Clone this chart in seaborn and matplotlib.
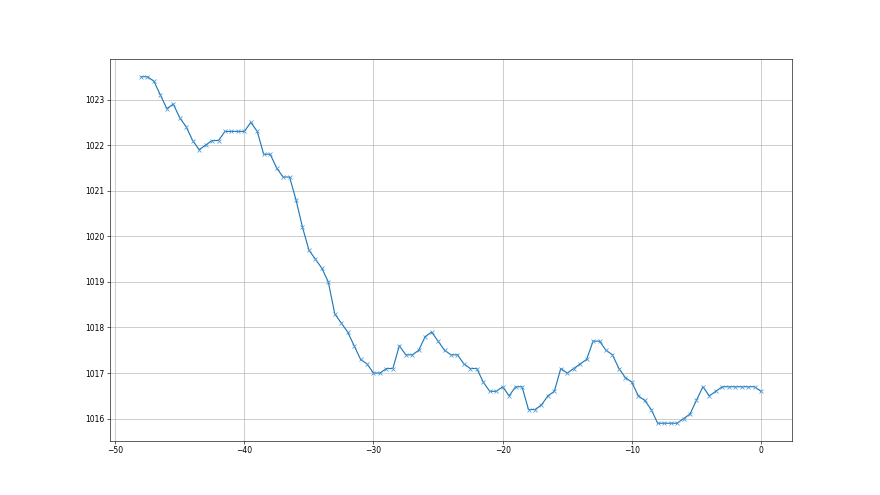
import numpy as np
import pandas as pd
import matplotlib
matplotlib.use("Agg")
import matplotlib.pyplot as plt
import seaborn as sns

# hours before now, every half hour
hours = np.arange(-48, 0.01, 0.5)
pressure = [
    1023.5, 1023.5, 1023.4, 1023.1, 1022.8, 1022.9, 1022.6, 1022.4, 1022.1, 1021.9,
    1022.0, 1022.1, 1022.1, 1022.3, 1022.3, 1022.3, 1022.3, 1022.5, 1022.3, 1021.8,
    1021.8, 1021.5, 1021.3, 1021.3, 1020.8, 1020.2, 1019.7, 1019.5, 1019.3, 1019.0,
    1018.3, 1018.1, 1017.9, 1017.6, 1017.3, 1017.2, 1017.0, 1017.0, 1017.1, 1017.1,
    1017.6, 1017.4, 1017.4, 1017.5, 1017.8, 1017.9, 1017.7, 1017.5, 1017.4, 1017.4,
    1017.2, 1017.1, 1017.1, 1016.8, 1016.6, 1016.6, 1016.7, 1016.5, 1016.7, 1016.7,
    1016.2, 1016.2, 1016.3, 1016.5, 1016.6, 1017.1, 1017.0, 1017.1, 1017.2, 1017.3,
    1017.7, 1017.7, 1017.5, 1017.4, 1017.1, 1016.9, 1016.8, 1016.5, 1016.4, 1016.2,
    1015.9, 1015.9, 1015.9, 1015.9, 1016.0, 1016.1, 1016.4, 1016.7, 1016.5, 1016.6,
    1016.7, 1016.7, 1016.7, 1016.7, 1016.7, 1016.7, 1016.6,
]

df = pd.DataFrame({"hours": hours, "pressure": pressure})

fig, ax = plt.subplots(figsize=(16, 9), dpi=55)
sns.lineplot(data=df, x="hours", y="pressure", marker="x", color="C0",
             markeredgecolor="#4a9ad8", markeredgewidth=1.0, markersize=6, ax=ax)
ax.set_xlabel("")
ax.set_ylabel("")
ax.grid(True)
fig.savefig("out.png", dpi=55)
